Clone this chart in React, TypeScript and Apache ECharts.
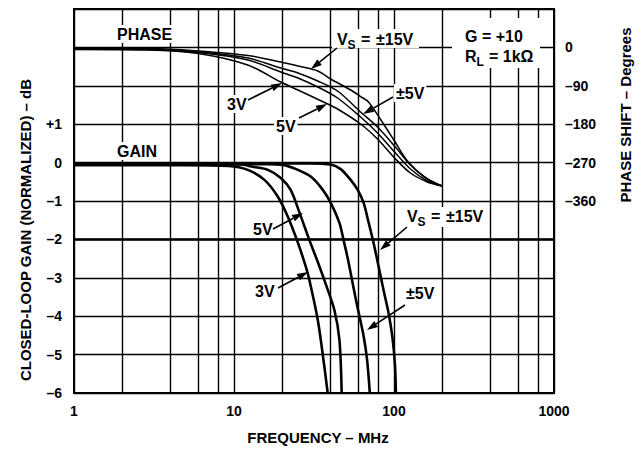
import React, { useEffect, useRef } from "react";
import * as echarts from "echarts";

// ---------- data ----------
const freqMin = 1;
const freqMax = 1000;
const minorFreqLines = [2, 4, 6, 8, 20, 40, 60, 80, 200, 400, 600, 800];
const gainMin = -6;
const gainMax = 4;
const phaseMin = -810;
const phaseMax = 90;

// Closed-loop gain (MHz, dB)
const gain3V: [number, number][] = [
  [1, -0.07], [5, -0.07], [9.2, -0.09], [12.2, -0.19], [15.5, -0.45], [18.8, -0.89],
  [21.7, -1.41], [25.1, -2.09], [28.1, -2.71], [29.6, -3.06], [33.4, -4.1], [36.8, -5.35], [38.5, -6],
];
const gain5V: [number, number][] = [
  [1, -0.05], [11, -0.05], [13.1, -0.11], [16.3, -0.19], [19.6, -0.4], [22.6, -0.71],
  [25.7, -1.31], [29.6, -2.02], [33.4, -2.59], [37.4, -3.16], [42.4, -3.84], [45.6, -4.62], [47.1, -6],
];
const gainPM5V: [number, number][] = [
  [1, -0.03], [16, -0.04], [20.2, -0.06], [25.1, -0.19], [30.3, -0.37], [35.9, -0.71], [40.4, -1.06],
  [45.6, -1.57], [48.4, -2.02], [51.3, -2.48], [54.3, -3.0], [58.4, -3.66], [64.6, -4.52],
  [67.9, -5.14], [70.6, -6],
];
const gainPM15V: [number, number][] = [
  [1, -0.02], [30, -0.02], [40.2, -0.05], [46.4, -0.17], [53.6, -0.45], [59.3, -0.71], [64.6, -1.05],
  [69.3, -1.55], [74.5, -2.09], [80.0, -2.69], [86.0, -3.32], [92.5, -3.92], [97.9, -4.57],
  [101.4, -5.27], [102.8, -6],
];

// Phase shift (MHz, degrees)
const phasePM15V: [number, number][] = [
  [1, -1.4], [2.91, -2.6], [5.97, -8.4], [12.2, -19], [19.6, -34.2], [25.1, -43.6], [33.4, -55.3],
  [40.2, -74.1], [53.6, -99.8], [61.8, -115.1], [69.3, -128], [83.6, -172.5], [100.8, -219.4],
  [121.3, -266.3], [154.9, -303.8], [200, -324.8],
];
const phasePM5V: [number, number][] = [
  [1, -2.6], [2.91, -3.75], [5.97, -10.8], [12.2, -24.8], [19.6, -48.3], [25.1, -60], [33.4, -78.8],
  [44.4, -102.2], [61.8, -151.4], [78.9, -186.6], [100.8, -231.1], [126.7, -275.6], [161.8, -308.4],
  [200, -324.8],
];
const phase5V: [number, number][] = [
  [1, -3.75], [2.91, -4.9], [5.97, -12], [12.2, -29.5], [19.6, -57.7], [25.1, -71.7], [33.4, -92.8],
  [44.4, -118.6], [61.8, -163.1], [78.9, -200.6], [100.8, -245.2], [126.7, -285], [161.8, -313.1],
  [200, -324.8],
];
const phase3V: [number, number][] = [
  [1, -4.9], [2.91, -6.1], [5.97, -14.3], [12.2, -41.3], [19.6, -81.1], [25.1, -99.8], [37.4, -130.3],
  [44.4, -144.4], [61.8, -179.5], [78.9, -214.7], [100.8, -259.2], [126.7, -294.4], [161.8, -315.5],
  [200, -324.8],
];

const FONT = '"Liberation Sans", Arial, Helvetica, sans-serif';
const DASH = "\u2013";

function txt(text: string, x: number, y: number, size = 16, bg = true, align = "left", rotation = 0) {
  return {
    type: "text",
    x,
    y,
    z: 16,
    rotation,
    style: {
      text,
      fontSize: size,
      fontWeight: "bold",
      fontFamily: FONT,
      fill: "#000",
      textAlign: align,
      textVerticalAlign: "middle",
      align,
      verticalAlign: "middle",
      ...(bg ? { backgroundColor: "#fff", padding: [1, 2] } : {}),
    },
  };
}

function arrow(x1: number, y1: number, x2: number, y2: number) {
  const a = Math.atan2(y2 - y1, x2 - x1);
  const len = 11;
  const half = 3.6;
  const bx = x2 - len * Math.cos(a);
  const by = y2 - len * Math.sin(a);
  const px = -Math.sin(a);
  const py = Math.cos(a);
  return [
    { type: "line", z: 20, shape: { x1, y1, x2: bx, y2: by }, style: { stroke: "#000", lineWidth: 1.6 } },
    {
      type: "polygon",
      z: 20,
      shape: { points: [[x2, y2], [bx + px * half, by + py * half], [bx - px * half, by - py * half]] },
      style: { fill: "#000" },
    },
  ];
}

function whiteRect(x: number, y: number, w: number, h: number) {
  return { type: "rect", z: 15, shape: { x, y, width: w, height: h }, style: { fill: "#fff" } };
}

export default function App() {
  const ref = useRef<HTMLDivElement>(null);
  useEffect(() => {
    if (!ref.current) return;
    const chart = echarts.init(ref.current, undefined, { renderer: "svg" });
    const labelStyle = { color: "#000", fontSize: 14, fontWeight: "bold" as const, fontFamily: FONT };
    const gainLine = (name: string, data: [number, number][]) => ({
      name,
      type: "line",
      xAxisIndex: 0,
      yAxisIndex: 0,
      data,
      smooth: 0.3,
      symbol: "none",
      silent: true,
      z: 5,
      lineStyle: { color: "#000", width: 2.6 },
    });
    const phaseLine = (name: string, data: [number, number][]) => ({
      name,
      type: "line",
      xAxisIndex: 0,
      yAxisIndex: 1,
      data,
      smooth: 0.3,
      symbol: "none",
      silent: true,
      z: 5,
      lineStyle: { color: "#000", width: 1.5 },
    });

    const graphics: any[] = [
      // axis names
      txt("CLOSED-LOOP GAIN (NORMALIZED) " + DASH + " dB", 25, 230, 15, false, "center", Math.PI / 2),
      txt("PHASE SHIFT " + DASH + " Degrees", 625, 115, 15, false, "center", Math.PI / 2),
      txt("FREQUENCY " + DASH + " MHz", 318, 437, 15, false, "center"),
      // labels
      txt("PHASE", 115, 34),
      txt("GAIN", 115, 151),
      txt("3V", 225, 104),
      txt("5V", 274, 126),
      txt("5V", 251, 229),
      txt("3V", 253, 291),
      txt("\u00b15V", 394, 93),
      txt("\u00b15V", 404, 293),
      // top Vs label
      whiteRect(332, 29, 87, 19),
      txt("V", 337, 39, 16, false),
      txt("S", 347.5, 44.5, 12, false),
      txt("=", 361, 39, 16, false),
      txt("\u00b115V", 376, 39, 16, false),
      // gain Vs label
      whiteRect(403, 207, 86, 20),
      txt("V", 407, 216, 16, false),
      txt("S", 417.5, 221.5, 12, false),
      txt("=", 431, 216, 16, false),
      txt("\u00b115V", 446, 216, 16, false),
      // G / RL box
      whiteRect(452, 18, 88, 50),
      txt("G = +10", 465, 36, 16, false),
      txt("R", 465, 56, 16, false),
      txt("L", 476.5, 61.5, 12, false),
      txt("= 1k\u03a9", 489, 56, 16, false),
      // arrows
      ...arrow(248, 100, 282, 83),
      ...arrow(299, 118, 327, 104),
      ...arrow(337, 48, 311, 69),
      ...arrow(393, 97, 363, 114),
      ...arrow(273, 229, 303, 213),
      ...arrow(278, 288, 308, 272),
      ...arrow(407, 227, 380, 250),
      ...arrow(405, 305, 367, 330),
    ];

    chart.setOption({
      animation: false,
      backgroundColor: "#fff",
      grid: {
        left: 74, top: 9, width: 480, height: 384,
        show: true, borderColor: "#000", borderWidth: 2, backgroundColor: "transparent",
      },
      xAxis: {
        type: "log",
        logBase: 10,
        min: freqMin,
        max: freqMax,
        axisLine: { show: false },
        axisTick: { show: false },
        splitLine: { show: true, lineStyle: { color: "#000", width: 1.4 } },
        axisLabel: { ...labelStyle, margin: 11, formatter: (v: number) => String(Math.round(v)) },
      },
      yAxis: [
        {
          type: "value",
          min: gainMin,
          max: gainMax,
          interval: 1,
          position: "left",
          axisLine: { show: false },
          axisTick: { show: false },
          splitLine: { show: true, lineStyle: { color: "#000", width: 1.4 } },
          axisLabel: {
            ...labelStyle,
            margin: 12,
            formatter: (v: number) => (v > 1 ? "" : v > 0 ? "+" + v : v < 0 ? DASH + -v : "0"),
          },
        },
        {
          type: "value",
          min: phaseMin,
          max: phaseMax,
          interval: 90,
          position: "right",
          axisLine: { show: false },
          axisTick: { show: false },
          splitLine: { show: false },
          axisLabel: {
            ...labelStyle,
            margin: 11,
            formatter: (v: number) => (v > 0 || v < -360 ? "" : v === 0 ? "0" : DASH + -v),
          },
        },
      ],
      series: [
        {
          name: "grid",
          type: "line",
          xAxisIndex: 0,
          yAxisIndex: 0,
          data: [[1, -20]],
          symbol: "none",
          silent: true,
          z: 1,
          lineStyle: { opacity: 0 },
          markLine: {
            silent: true,
            symbol: ["none", "none"],
            label: { show: false },
            lineStyle: { color: "#000", width: 1.4, type: "solid" },
            data: [
              ...minorFreqLines.map((v) => ({ xAxis: v })),
              { yAxis: -2, lineStyle: { color: "#000", width: 2.6, type: "solid" } },
            ],
          },
        },
        gainLine("3V", gain3V),
        gainLine("5V", gain5V),
        gainLine("±5V", gainPM5V),
        gainLine("±15V", gainPM15V),
        phaseLine("3V phase", phase3V),
        phaseLine("5V phase", phase5V),
        phaseLine("±5V phase", phasePM5V),
        phaseLine("±15V phase", phasePM15V),
      ],
      graphic: { elements: graphics },
    });
    return () => chart.dispose();
  }, []);
  return (
    <div
      ref={ref}
      style={{ position: "fixed", left: 0, top: 0, width: 644, height: 449, background: "#fff" }}
    />
  );
}
